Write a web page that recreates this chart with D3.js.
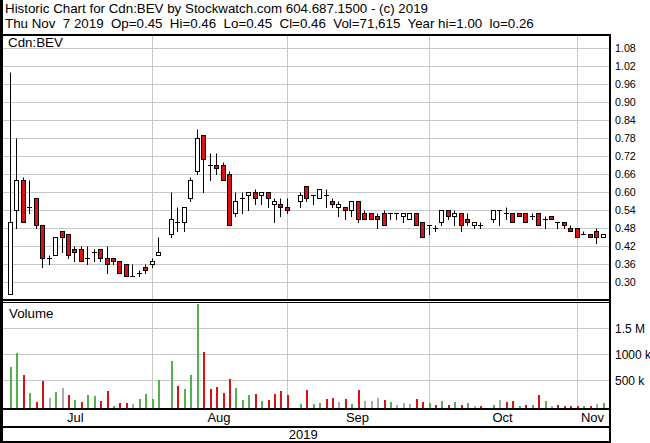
<!DOCTYPE html>
<html><head><meta charset="utf-8">
<script src="https://cdn.jsdelivr.net/npm/d3@7"></script>
<style>
html,body{margin:0;padding:0;background:#fff;}
svg{display:block;font-family:"Liberation Sans",Arial,sans-serif;}
</style></head><body>
<svg id="c" width="650" height="443"></svg>
<script>
const dates = ["2019-07-02","2019-07-03","2019-07-04","2019-07-05","2019-07-08","2019-07-09","2019-07-10","2019-07-11","2019-07-12","2019-07-15","2019-07-16","2019-07-17","2019-07-18","2019-07-19","2019-07-22","2019-07-23","2019-07-24","2019-07-25","2019-07-26","2019-07-29","2019-07-30","2019-07-31",
"2019-08-01","2019-08-02","2019-08-06","2019-08-07","2019-08-08","2019-08-09","2019-08-12","2019-08-13","2019-08-14","2019-08-15","2019-08-16","2019-08-19","2019-08-20","2019-08-21","2019-08-22","2019-08-23","2019-08-26","2019-08-27","2019-08-28","2019-08-29","2019-08-30",
"2019-09-03","2019-09-04","2019-09-05","2019-09-06","2019-09-09","2019-09-10","2019-09-11","2019-09-12","2019-09-13","2019-09-16","2019-09-17","2019-09-18","2019-09-19","2019-09-20","2019-09-23","2019-09-24","2019-09-25","2019-09-26","2019-09-27","2019-09-30",
"2019-10-01","2019-10-02","2019-10-03","2019-10-04","2019-10-07","2019-10-08","2019-10-09","2019-10-10","2019-10-11","2019-10-15","2019-10-16","2019-10-17","2019-10-18","2019-10-21","2019-10-22","2019-10-23","2019-10-24","2019-10-25","2019-10-28","2019-10-29","2019-10-30","2019-10-31",
"2019-11-01","2019-11-04","2019-11-05","2019-11-06","2019-11-07"];
const open  = [0.26,0.54,0.64,0.55,0.58,0.49,0.38,0.39,0.47,0.46,0.41,0.41,0.38,0.40,0.41,0.38,0.38,0.37,0.36,0.32,0.33,0.35,
0.36,0.39,0.46,0.50,0.50,0.58,0.67,0.79,0.69,0.69,0.69,0.66,0.53,0.58,0.59,0.60,0.59,0.60,0.56,0.56,0.55,
0.57,0.62,0.59,0.58,0.59,0.57,0.55,0.55,0.54,0.57,0.53,0.53,0.52,0.53,0.53,0.53,0.52,0.51,0.53,0.50,
0.49,0.48,0.50,0.54,0.52,0.53,0.51,0.49,0.49,0.51,0.54,0.53,0.53,0.53,0.53,0.52,0.53,0.51,0.52,0.50,0.50,0.48,
0.48,0.46,0.46,0.47,0.45];
const high  = [1.00,0.78,0.65,0.64,0.58,0.49,0.39,0.45,0.47,0.46,0.42,0.42,0.42,0.41,0.41,0.42,0.38,0.37,0.36,0.36,0.34,0.36,
0.38,0.45,0.60,0.55,0.55,0.65,0.81,0.79,0.73,0.73,0.70,0.67,0.60,0.60,0.60,0.61,0.60,0.60,0.58,0.58,0.58,
0.60,0.62,0.59,0.61,0.61,0.58,0.57,0.55,0.57,0.57,0.54,0.53,0.53,0.54,0.53,0.53,0.53,0.53,0.53,0.50,
0.49,0.49,0.54,0.54,0.54,0.53,0.53,0.50,0.50,0.54,0.54,0.55,0.53,0.53,0.53,0.53,0.53,0.52,0.52,0.50,0.50,0.49,
0.48,0.47,0.46,0.48,0.46];
const low   = [0.26,0.48,0.50,0.53,0.48,0.35,0.36,0.39,0.40,0.38,0.37,0.37,0.36,0.37,0.37,0.33,0.36,0.33,0.32,0.32,0.32,0.33,
0.35,0.39,0.45,0.47,0.47,0.57,0.66,0.60,0.64,0.66,0.64,0.49,0.52,0.53,0.54,0.56,0.56,0.55,0.50,0.52,0.53,
0.55,0.57,0.56,0.58,0.55,0.55,0.52,0.51,0.52,0.50,0.51,0.51,0.48,0.49,0.51,0.51,0.50,0.51,0.49,0.45,
0.46,0.47,0.49,0.51,0.49,0.47,0.49,0.48,0.48,0.50,0.49,0.51,0.50,0.52,0.50,0.51,0.49,0.48,0.51,0.48,0.48,0.47,
0.45,0.46,0.45,0.43,0.45];
const close = [0.50,0.64,0.50,0.55,0.49,0.38,0.38,0.45,0.45,0.39,0.40,0.37,0.38,0.40,0.38,0.36,0.37,0.33,0.32,0.32,0.33,0.34,
0.37,0.40,0.51,0.50,0.55,0.64,0.78,0.71,0.69,0.68,0.64,0.49,0.57,0.58,0.60,0.58,0.60,0.58,0.57,0.55,0.54,
0.59,0.58,0.59,0.61,0.59,0.56,0.56,0.54,0.57,0.51,0.51,0.51,0.51,0.49,0.53,0.53,0.53,0.53,0.49,0.45,
0.49,0.48,0.54,0.52,0.53,0.49,0.50,0.50,0.49,0.54,0.54,0.53,0.50,0.52,0.50,0.52,0.49,0.51,0.51,0.50,0.49,0.47,
0.45,0.46,0.45,0.45,0.46];
const volume = [761000,1031000,608000,256000,89000,493000,166000,281000,358000,223000,127000,89000,217000,204000,108000,300000,12000,69000,69000,44000,146000,236000,
146000,506000,877000,390000,339000,602000,1967000,1050000,339000,377000,256000,525000,352000,127000,217000,236000,108000,127000,236000,294000,217000,
44000,313000,38000,58000,135000,154000,77000,135000,38000,313000,102000,102000,154000,121000,77000,25000,58000,38000,140000,77000,
58000,25000,102000,25000,89000,25000,58000,6000,5000,25000,121000,77000,102000,6000,25000,25000,217000,102000,6000,25000,3000,3000,
6000,6000,3000,44000,71615];
const priceTicks = [1.08,1.02,0.96,0.90,0.84,0.78,0.72,0.66,0.60,0.54,0.48,0.42,0.36,0.30];
const volumeTicks = [500000,1000000,1500000];
const volumeTickLabels = ["500 k","1000 k","1.5 M"];
const monthGridDates = ["2019-08-01","2019-08-30","2019-10-01","2019-11-01"];
const monthLabels = ["Jul","Aug","Sep","Oct","Nov"];
const yearLabel = "2019";
const symbol = "Cdn:BEV";
const title1 = "Historic Chart for Cdn:BEV by Stockwatch.com 604.687.1500 - (c) 2019";
const title2 = "Thu Nov  7 2019  Op=0.45  Hi=0.46  Lo=0.45  Cl=0.46  Vol=71,615  Year hi=1.00  lo=0.26";

const parse = d3.timeParse("%Y-%m-%d");
const start = parse("2019-07-01");
function wk(s){ const d = parse(s); const n = d3.timeDay.count(start, d); return Math.floor(n/7)*5 + Math.min(n%7,5); }

const data = dates.map((d,i)=>({date:d, w:wk(d), o:open[i], h:high[i], l:low[i], c:close[i], v:volume[i],
  pc: i>0 ? close[i-1] : open[i]}));

const L = 3, R = 609.5;
const x = d3.scaleLinear().domain([0, wk("2019-11-07")]).range([3.56, 602.5]);
const y = d3.scaleLinear().domain([0.30, 1.08]).range([282.3, 48.3]);
const yv = d3.scaleLinear().domain([0, 1500000]).range([406.3, 328.3]);
const priceTop = 35, priceBot = 300, volTop = 303, volBot = 409;

const svg = d3.select("#c");
const FS = 13.33;
const GRID = "#c8c8c8";
const RED = "#dd1111", GREEN = "#55b04f", GRAY = "#aaaaaa";
const px = v => Math.round(v) + 0.5;

// header
svg.append("text").attr("x",5).attr("y",13).attr("font-size",FS).style("white-space","pre").text(title1);
svg.append("text").attr("x",5).attr("y",27.5).attr("font-size",FS).style("white-space","pre").text(title2);

// gridlines price
const g = svg.append("g");
g.selectAll(".hp").data(priceTicks).join("line")
  .attr("x1",L).attr("x2",R).attr("y1",d=>px(y(d))).attr("y2",d=>px(y(d)))
  .attr("stroke",GRID).attr("stroke-width",1);
g.selectAll(".hv").data(volumeTicks).join("line")
  .attr("x1",L).attr("x2",R).attr("y1",d=>px(yv(d))).attr("y2",d=>px(yv(d)))
  .attr("stroke",GRID).attr("stroke-width",1);
const mx = monthGridDates.map(d=>px(x(wk(d))));
g.selectAll(".vp").data(mx).join("line")
  .attr("x1",d=>d).attr("x2",d=>d).attr("y1",priceTop).attr("y2",priceBot)
  .attr("stroke",GRID);
g.selectAll(".vv").data(mx).join("line")
  .attr("x1",d=>d).attr("x2",d=>d).attr("y1",volTop).attr("y2",volBot)
  .attr("stroke",GRID);

// labels in panels
svg.append("text").attr("x",8).attr("y",46.5).attr("font-size",FS).text(symbol);
svg.append("text").attr("x",9).attr("y",318).attr("font-size",FS).text("Volume");

// volume bars
svg.append("g").selectAll("rect").data(data).join("rect")
  .attr("x",d=>Math.round(x(d.w)))
  .attr("width",2)
  .attr("y",d=>Math.round(yv(d.v)))
  .attr("height",d=>Math.max(1, volBot - Math.round(yv(d.v))))
  .attr("fill",d=> d.c > d.pc ? GREEN : d.c < d.pc ? RED : GRAY)
  .attr("shape-rendering","crispEdges");

// candles
const cg = svg.append("g");
data.forEach(d=>{
  const cx = Math.round(x(d.w));
  cg.append("line").attr("x1",cx+0.5).attr("x2",cx+0.5)
    .attr("y1",px(y(d.h))).attr("y2",px(y(d.l))+0.5).attr("stroke","#000").attr("stroke-width",1);
  if (d.c !== d.o){
    const top = px(y(Math.max(d.o,d.c))), bot = px(y(Math.min(d.o,d.c)));
    cg.append("rect").attr("x",cx-1.5).attr("width",4)
      .attr("y",top).attr("height",Math.max(1,bot-top))
      .attr("fill", d.c < d.o ? RED : "#fff").attr("stroke","#000").attr("stroke-width",1);
  } else {
    cg.append("line").attr("x1",cx-2).attr("x2",cx+3)
      .attr("y1",px(y(d.o))).attr("y2",px(y(d.o))).attr("stroke","#000").attr("stroke-width",1);
  }
});

// axis labels
svg.append("g").selectAll("text").data(priceTicks).join("text")
  .attr("x",615).attr("y",d=>y(d)).attr("dy","0.36em").attr("font-size",10.7)
  .text(d=>d3.format(".2f")(d));
svg.append("g").selectAll("text").data(volumeTicks).join("text")
  .attr("x",615).attr("y",d=>yv(d)).attr("dy","0.36em").attr("font-size",12)
  .text((d,i)=>volumeTickLabels[i]);

// month labels
const bounds = [x(-0.5)].concat(mx).concat([R]);
svg.append("g").selectAll("text").data(monthLabels).join("text")
  .attr("x",(d,i)=>(bounds[i]+bounds[i+1])/2 - 1).attr("y",422).attr("text-anchor","middle")
  .attr("font-size",13).text(d=>d);
svg.append("text").attr("x",(L+R)/2-3).attr("y",439).attr("text-anchor","middle").attr("font-size",13).text(yearLabel);

// frame
const f = svg.append("g").attr("fill","#000").attr("shape-rendering","crispEdges");
f.append("rect").attr("x",0).attr("y",0).attr("width",3).attr("height",443);
f.append("rect").attr("x",0).attr("y",priceTop-1).attr("width",611).attr("height",2);
f.append("rect").attr("x",609).attr("y",priceTop-1).attr("width",2).attr("height",443-priceTop+1);
f.append("rect").attr("x",0).attr("y",299).attr("width",611).attr("height",2);
f.append("rect").attr("x",0).attr("y",302).attr("width",611).attr("height",1);
f.append("rect").attr("x",0).attr("y",408).attr("width",611).attr("height",2);
f.append("rect").attr("x",0).attr("y",426).attr("width",611).attr("height",2);
f.append("rect").attr("x",0).attr("y",441).attr("width",611).attr("height",2);
</script>
</body></html>
